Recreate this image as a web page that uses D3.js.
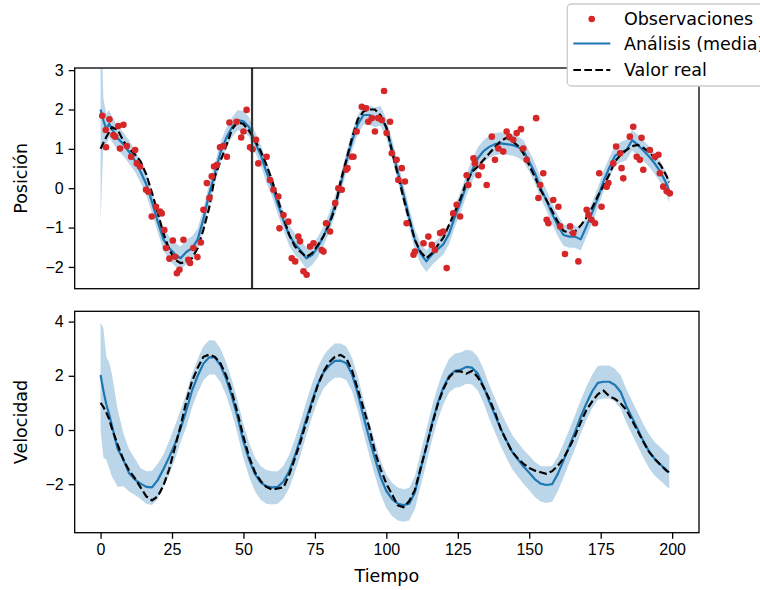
<!DOCTYPE html>
<html>
<head>
<meta charset="utf-8">
<script src="https://cdn.jsdelivr.net/npm/d3@7"></script>
<style>
  html, body { margin: 0; padding: 0; background: #fff; }
  svg { display: block; font-family: "DejaVu Sans", sans-serif; }
  .axis path.domain { display: none; }
  .axis line { stroke: #000; stroke-width: 1.3; }
  .axis text { font-size: 16px; fill: #000; }
</style>
</head>
<body>
<div id="chart"></div>
<script>
// --- data ---

const time = [0, 1, 2, 3, 4, 6, 8, 10, 12, 14,
  16, 18, 20, 22, 24, 26, 28, 30, 32, 34,
  36, 38, 40, 42, 44, 46, 48, 50, 52, 54,
  56, 58, 60, 62, 64, 66, 68, 70, 72, 74,
  76, 78, 80, 82, 84, 86, 88, 90, 92, 94,
  96, 98, 100, 102, 104, 106, 108, 110, 112, 114,
  116, 118, 120, 122, 124, 126, 128, 130, 132, 134,
  136, 138, 140, 142, 144, 146, 148, 150, 152, 154,
  156, 158, 160, 162, 164, 166, 168, 170, 172, 174,
  176, 178, 180, 182, 184, 186, 188, 190, 192, 194,
  196, 198, 199];

// position: true value, analysis mean, analysis half-width
const posTrue = [1.00, 1.15, 1.30, 1.42, 1.55, 1.48, 1.20, 1.00, 0.86, 0.68,
  0.35, -0.12, -0.62, -1.15, -1.55, -1.82, -1.90, -1.88, -1.78, -1.52,
  -1.05, -0.50, 0.30, 0.70, 1.08, 1.50, 1.68, 1.63, 1.45, 1.22,
  0.95, 0.60, 0.20, -0.28, -0.75, -1.18, -1.48, -1.62, -1.75, -1.65,
  -1.45, -1.22, -0.92, -0.52, 0.18, 0.72, 1.28, 1.75, 1.95, 2.00,
  2.00, 1.85, 1.55, 0.92, 0.35, -0.25, -0.80, -1.32, -1.62, -1.78,
  -1.65, -1.45, -1.25, -0.92, -0.60, -0.25, 0.15, 0.42, 0.55, 0.72,
  0.88, 1.05, 1.20, 1.28, 1.20, 1.08, 0.88, 0.58, 0.28, -0.05,
  -0.30, -0.58, -0.85, -1.08, -1.14, -1.10, -0.95, -0.75, -0.50, -0.20,
  0.06, 0.35, 0.68, 0.85, 0.97, 1.07, 1.10, 1.02, 0.92, 0.75,
  0.58, 0.32, 0.15];

const posMean = [2.00, 1.72, 1.50, 1.64, 1.50, 1.27, 1.12, 0.92, 0.70, 0.42,
  0.10, -0.35, -0.85, -1.30, -1.52, -1.68, -1.78, -1.62, -1.52, -1.30,
  -0.78, -0.15, 0.38, 0.92, 1.28, 1.55, 1.73, 1.70, 1.55, 1.18,
  0.85, 0.42, 0.05, -0.40, -0.82, -1.20, -1.42, -1.58, -1.78, -1.70,
  -1.50, -1.22, -0.88, -0.45, 0.08, 0.68, 1.20, 1.62, 1.86, 1.86,
  1.80, 1.84, 1.52, 1.00, 0.42, -0.15, -0.75, -1.31, -1.66, -1.86,
  -1.68, -1.55, -1.42, -1.15, -0.72, -0.35, 0.08, 0.45, 0.76, 0.94,
  1.05, 1.12, 1.14, 1.12, 1.10, 1.05, 0.95, 0.68, 0.38, 0.00,
  -0.30, -0.65, -0.95, -1.19, -1.23, -1.23, -1.30, -0.97, -0.62, -0.25,
  0.18, 0.52, 0.82, 0.92, 0.97, 1.22, 1.10, 0.95, 0.80, 0.62,
  0.40, 0.12, -0.08];

const posSd = [2.85, 0.55, 0.40, 0.35, 0.32, 0.30, 0.30, 0.29, 0.28, 0.28,
  0.28, 0.28, 0.27, 0.28, 0.30, 0.30, 0.30, 0.31, 0.30, 0.28,
  0.28, 0.27, 0.26, 0.26, 0.25, 0.25, 0.26, 0.26, 0.25, 0.26,
  0.26, 0.27, 0.26, 0.26, 0.25, 0.26, 0.27, 0.27, 0.27, 0.26,
  0.26, 0.25, 0.25, 0.25, 0.24, 0.24, 0.25, 0.24, 0.24, 0.25,
  0.25, 0.25, 0.24, 0.24, 0.25, 0.25, 0.25, 0.26, 0.26, 0.27,
  0.27, 0.26, 0.26, 0.26, 0.26, 0.27, 0.27, 0.28, 0.28, 0.28,
  0.28, 0.28, 0.28, 0.27, 0.27, 0.27, 0.27, 0.26, 0.26, 0.26,
  0.26, 0.26, 0.27, 0.27, 0.28, 0.28, 0.28, 0.27, 0.27, 0.26,
  0.26, 0.26, 0.26, 0.26, 0.26, 0.26, 0.26, 0.26, 0.26, 0.27,
  0.27, 0.28, 0.28];

// velocity: true value, analysis mean, band extent above / below the mean
const velTrue = [1.00, 0.85, 0.65, 0.40, 0.05, -0.55, -1.10, -1.50, -1.78, -2.12,
  -2.45, -2.60, -2.45, -2.05, -1.45, -0.65, 0.15, 1.05, 1.80, 2.30,
  2.70, 2.78, 2.70, 2.45, 2.00, 1.38, 0.60, -0.25, -1.00, -1.55,
  -1.88, -2.10, -2.20, -2.16, -2.12, -1.65, -1.05, -0.42, 0.30, 0.98,
  1.65, 2.15, 2.50, 2.70, 2.77, 2.64, 2.20, 1.50, 0.80, 0.10,
  -0.80, -1.45, -1.98, -2.38, -2.78, -2.85, -2.62, -2.21, -1.40, -0.62,
  0.20, 0.95, 1.52, 1.95, 2.16, 2.16, 2.08, 2.18, 1.95, 1.58,
  1.15, 0.65, 0.05, -0.40, -0.80, -1.05, -1.25, -1.40, -1.50, -1.56,
  -1.62, -1.52, -1.32, -1.05, -0.65, -0.22, 0.28, 0.74, 1.05, 1.32,
  1.45, 1.25, 1.15, 0.98, 0.74, 0.35, -0.05, -0.45, -0.82, -1.08,
  -1.30, -1.50, -1.58];

const velMean = [2.03, 1.45, 0.95, 0.58, 0.15, -0.70, -1.10, -1.60, -1.83, -1.98,
  -2.10, -2.12, -1.85, -1.45, -1.00, -0.52, 0.05, 0.72, 1.45, 2.00,
  2.45, 2.68, 2.68, 2.38, 1.88, 1.22, 0.45, -0.42, -1.10, -1.62,
  -1.93, -2.08, -2.12, -2.10, -1.90, -1.52, -0.95, -0.30, 0.42, 1.08,
  1.68, 2.12, 2.38, 2.55, 2.56, 2.46, 2.05, 1.35, 0.50, -0.30,
  -1.05, -1.75, -2.25, -2.55, -2.72, -2.77, -2.72, -2.30, -1.45, -0.62,
  0.25, 1.00, 1.58, 2.00, 2.18, 2.22, 2.33, 2.30, 2.08, 1.62,
  1.05, 0.55, 0.05, -0.38, -0.80, -1.08, -1.35, -1.58, -1.82, -1.98,
  -2.03, -2.00, -1.62, -1.12, -0.60, -0.08, 0.48, 0.98, 1.42, 1.74,
  1.78, 1.78, 1.66, 1.40, 0.88, 0.45, 0.02, -0.42, -0.80, -1.08,
  -1.28, -1.48, -1.56];

const velUp = [1.93, 2.30, 1.75, 1.92, 1.90, 1.45, 0.98, 0.88, 0.78, 0.58,
  0.58, 0.62, 0.60, 0.55, 0.60, 0.67, 0.70, 0.63, 0.62, 0.63,
  0.64, 0.63, 0.62, 0.62, 0.61, 0.62, 0.63, 0.62, 0.62, 0.61,
  0.60, 0.60, 0.60, 0.58, 0.58, 0.60, 0.62, 0.62, 0.63, 0.63,
  0.63, 0.62, 0.63, 0.64, 0.63, 0.62, 0.62, 0.63, 0.63, 0.62,
  0.62, 0.62, 0.61, 0.60, 0.60, 0.58, 0.58, 0.60, 0.62, 0.63,
  0.63, 0.62, 0.62, 0.63, 0.64, 0.64, 0.63, 0.62, 0.62, 0.62,
  0.62, 0.62, 0.62, 0.62, 0.62, 0.62, 0.62, 0.63, 0.64, 0.65,
  0.68, 0.67, 0.64, 0.62, 0.62, 0.62, 0.62, 0.62, 0.62, 0.62,
  0.60, 0.60, 0.60, 0.62, 0.62, 0.62, 0.62, 0.62, 0.63, 0.63,
  0.63, 0.62, 0.62];

const velDown = [2.03, 2.47, 2.05, 1.98, 1.87, 1.40, 0.98, 0.67, 0.57, 0.57,
  0.62, 0.65, 0.70, 0.65, 0.65, 0.58, 0.50, 0.62, 0.62, 0.62,
  0.62, 0.63, 0.63, 0.62, 0.62, 0.62, 0.62, 0.62, 0.63, 0.63,
  0.64, 0.64, 0.63, 0.62, 0.62, 0.62, 0.62, 0.62, 0.61, 0.60,
  0.60, 0.60, 0.62, 0.62, 0.62, 0.62, 0.62, 0.62, 0.62, 0.62,
  0.63, 0.63, 0.63, 0.62, 0.62, 0.62, 0.62, 0.62, 0.62, 0.62,
  0.62, 0.62, 0.62, 0.62, 0.62, 0.62, 0.62, 0.62, 0.62, 0.62,
  0.63, 0.63, 0.64, 0.64, 0.64, 0.64, 0.64, 0.64, 0.65, 0.66,
  0.66, 0.65, 0.64, 0.63, 0.62, 0.62, 0.62, 0.62, 0.62, 0.62,
  0.62, 0.62, 0.62, 0.62, 0.62, 0.62, 0.62, 0.62, 0.62, 0.62,
  0.60, 0.60, 0.60];

// observations of position
const obsTime = [0.6, 1.8, 1.9, 3.1, 4.5, 5.1, 6.2, 6.8, 8.0, 9.2,
  10.7, 12.1, 12.7, 13.8, 15.9, 16.7, 17.9, 19.4, 20.8, 21.4,
  22.3, 22.9, 24.1, 25.3, 26.1, 26.7, 27.6, 29.0, 30.7, 31.3,
  32.5, 33.9, 35.1, 36.0, 37.2, 38.1, 38.9, 39.7, 40.7, 41.8,
  43.0, 44.2, 45.1, 47.6, 49.2, 50.0, 51.1, 52.3, 53.2, 54.4,
  55.2, 58.1, 59.3, 60.5, 62.2, 62.6, 64.0, 65.7, 66.9, 68.1,
  69.2, 69.8, 71.0, 72.1, 73.3, 74.5, 77.4, 78.0, 78.9, 80.3,
  82.1, 83.2, 84.4, 85.9, 86.4, 87.9, 88.5, 89.6, 91.4, 92.9,
  93.7, 94.9, 96.0, 97.2, 98.4, 99.2, 100.1, 101.3, 101.9, 103.6,
  104.2, 105.4, 106.5, 107.1, 109.5, 110.0, 113.0, 114.7, 115.9, 117.0,
  118.8, 119.9, 121.1, 123.4, 124.6, 125.8, 128.1, 128.7, 130.5, 131.0,
  132.2, 133.4, 135.1, 136.9, 138.0, 139.2, 140.9, 142.1, 143.0, 144.4,
  145.6, 147.1, 147.9, 149.1, 152.4, 153.2, 153.8, 154.9, 156.1, 156.7,
  158.4, 160.2, 160.8, 162.5, 164.3, 165.4, 167.2, 170.1, 170.7, 171.8,
  173.0, 174.5, 175.3, 177.1, 177.7, 179.4, 180.4, 181.8, 182.3, 182.9,
  185.2, 186.4, 187.6, 188.7, 189.3, 189.9, 192.2, 194.0, 195.2, 195.7,
  196.9, 198.1, 199.2];

const obsPos = [1.84, 1.48, 1.04, 1.75, 1.35, 1.31, 1.58, 1.01, 1.61, 1.07,
  0.80, 0.97, 0.63, 0.55, -0.04, -0.09, -0.72, -0.47, -0.59, -0.64,
  -1.06, -1.52, -1.79, -1.33, -1.74, -2.16, -2.07, -1.31, -1.82, -1.90,
  -1.52, -1.75, -1.38, -0.55, 0.13, -0.25, 0.30, 0.55, 0.59, 1.04,
  1.07, 0.80, 1.67, 1.69, 1.29, 1.44, 1.99, 1.04, 0.99, 1.23,
  0.63, 0.80, 0.21, -0.04, -0.21, -1.02, -0.68, -0.85, -1.78, -1.86,
  -1.23, -1.35, -2.11, -2.20, -1.48, -1.40, -1.57, -1.61, -0.89, -1.10,
  -0.38, 0.00, -0.04, 0.47, 0.51, 0.80, 0.80, 1.44, 2.07, 2.03,
  1.69, 1.78, 1.44, 1.78, 1.73, 2.47, 1.40, 1.69, 0.89, 0.72,
  0.21, 0.51, 0.17, -0.89, -1.69, -1.61, -1.40, -1.23, -1.44, -1.57,
  -1.14, -1.10, -2.03, -0.64, -0.42, -0.72, 0.33, 0.08, 0.76, 0.63,
  0.33, 0.55, 0.08, 1.31, 0.72, 1.01, 0.93, 1.44, 1.31, 1.23,
  1.40, 1.50, 1.01, 0.72, 1.78, -0.25, 0.08, 0.38, -0.80, -0.89,
  -0.30, -0.47, -0.97, -1.67, -0.97, -1.14, -1.86, -0.55, -0.68, -0.80,
  -0.89, 0.38, -0.47, 0.04, 0.13, 0.63, 1.06, 0.89, 0.51, 0.25,
  1.31, 1.56, 0.80, 0.72, 1.28, 0.47, 0.97, 0.80, 0.85, 0.38,
  0.04, -0.08, -0.13];

const markerTime = 53;               // vertical reference line
const xTicks = [0, 25, 50, 75, 100, 125, 150, 175, 200];
const posTicks = [-2, -1, 0, 1, 2, 3];
const velTicks = [-2, 0, 2, 4];

// --- drawing ---
const BLUE = "#1f77b4", RED = "#d62728";
const svg = d3.select("#chart").append("svg")
    .attr("width", 760)
    .attr("height", 590);

const x = d3.scaleLinear().domain([-9.05, 209.4]).range([74.7, 699]);

const posRows = time.map((t, i) => ({ t, truth: posTrue[i], mean: posMean[i], lo: posMean[i] - posSd[i], hi: posMean[i] + posSd[i] }));
const velRows = time.map((t, i) => ({ t, truth: velTrue[i], mean: velMean[i], lo: velMean[i] - velDown[i], hi: velMean[i] + velUp[i] }));

const panels = [
    { id: "pos", top: 68, bottom: 288.7, domain: [-2.553, 3.054], ticks: posTicks, label: "Posición", rows: posRows },
    { id: "vel", top: 311.3, bottom: 532.7, domain: [-3.79, 4.38], ticks: velTicks, label: "Velocidad", rows: velRows }
];

const fmt = d3.format("d");

panels.forEach((p, k) => {
    const y = d3.scaleLinear().domain(p.domain).range([p.bottom, p.top]);
    p.y = y;

    svg.append("clipPath").attr("id", "clip-" + p.id)
        .append("rect")
        .attr("x", x.range()[0]).attr("y", p.top)
        .attr("width", x.range()[1] - x.range()[0])
        .attr("height", p.bottom - p.top);

    const g = svg.append("g").attr("clip-path", `url(#clip-${p.id})`);

    // uncertainty band
    g.append("path")
        .datum(p.rows)
        .attr("fill", BLUE)
        .attr("fill-opacity", 0.3)
        .attr("d", d3.area().x(d => x(d.t)).y0(d => y(d.lo)).y1(d => y(d.hi)));

    // analysis mean
    g.append("path")
        .datum(p.rows)
        .attr("fill", "none")
        .attr("stroke", BLUE)
        .attr("stroke-width", 2.2)
        .attr("stroke-linejoin", "round")
        .attr("d", d3.line().x(d => x(d.t)).y(d => y(d.mean)));

    // true value
    g.append("path")
        .datum(p.rows)
        .attr("fill", "none")
        .attr("stroke", "#000")
        .attr("stroke-width", 2.2)
        .attr("stroke-dasharray", "7.7,3.3")
        .attr("d", d3.line().x(d => x(d.t)).y(d => y(d.truth)));

    if (p.id === "pos") {
        g.append("g").selectAll("circle")
            .data(obsTime.map((t, i) => ({ t, v: obsPos[i] })))
            .join("circle")
            .attr("cx", d => x(d.t))
            .attr("cy", d => y(d.v))
            .attr("r", 3.3)
            .attr("fill", RED);

        g.append("line")
            .attr("x1", x(markerTime)).attr("x2", x(markerTime))
            .attr("y1", p.top).attr("y2", p.bottom)
            .attr("stroke", "#333")
            .attr("stroke-width", 2.2);
    }

    // y axis
    svg.append("g")
        .attr("class", "axis")
        .attr("transform", `translate(${x.range()[0]},0)`)
        .call(d3.axisLeft(y).tickValues(p.ticks).tickFormat(fmt).tickSize(6).tickPadding(5));

    // spines
    svg.append("rect")
        .attr("x", x.range()[0]).attr("y", p.top)
        .attr("width", x.range()[1] - x.range()[0])
        .attr("height", p.bottom - p.top)
        .attr("fill", "none")
        .attr("stroke", "#000")
        .attr("stroke-width", 1.3);

    // y label
    svg.append("text")
        .attr("transform", `translate(21,${(p.top + p.bottom) / 2}) rotate(-90)`)
        .attr("text-anchor", "middle")
        .attr("dy", "0.35em")
        .style("font-size", "17.5px")
        .text(p.label);
});

// x axis on the lower panel only
const low = panels[1];
svg.append("g")
    .attr("class", "axis")
    .attr("transform", `translate(0,${low.bottom})`)
    .call(d3.axisBottom(x).tickValues(xTicks).tickSize(6).tickPadding(5));

svg.append("text")
    .attr("x", (x.range()[0] + x.range()[1]) / 2)
    .attr("y", 582)
    .attr("text-anchor", "middle")
    .style("font-size", "17.5px")
    .text("Tiempo");

// --- legend ---
const legend = svg.append("g").attr("transform", "translate(567.3,4)");
legend.append("rect")
    .attr("width", 215).attr("height", 82)
    .attr("rx", 4)
    .attr("fill", "#fff")
    .attr("stroke", "#ccc")
    .attr("stroke-width", 1.3);

const entries = [
    { label: "Observaciones", kind: "dot", y: 15 },
    { label: "Análisis (media)", kind: "line", y: 39.5 },
    { label: "Valor real", kind: "dash", y: 66 }
];
entries.forEach(e => {
    if (e.kind === "dot") {
        legend.append("circle").attr("cx", 24.4).attr("cy", e.y).attr("r", 3.3).attr("fill", RED);
    } else {
        legend.append("line")
            .attr("x1", 6).attr("x2", 43).attr("y1", e.y).attr("y2", e.y)
            .attr("stroke", e.kind === "line" ? BLUE : "#000")
            .attr("stroke-width", 2.2)
            .attr("stroke-dasharray", e.kind === "dash" ? "7.7,3.3" : null);
    }
    legend.append("text")
        .attr("x", 56.7).attr("y", e.y)
        .attr("dy", "0.35em")
        .style("font-size", "17.5px")
        .text(e.label);
});
</script>
</body>
</html>
